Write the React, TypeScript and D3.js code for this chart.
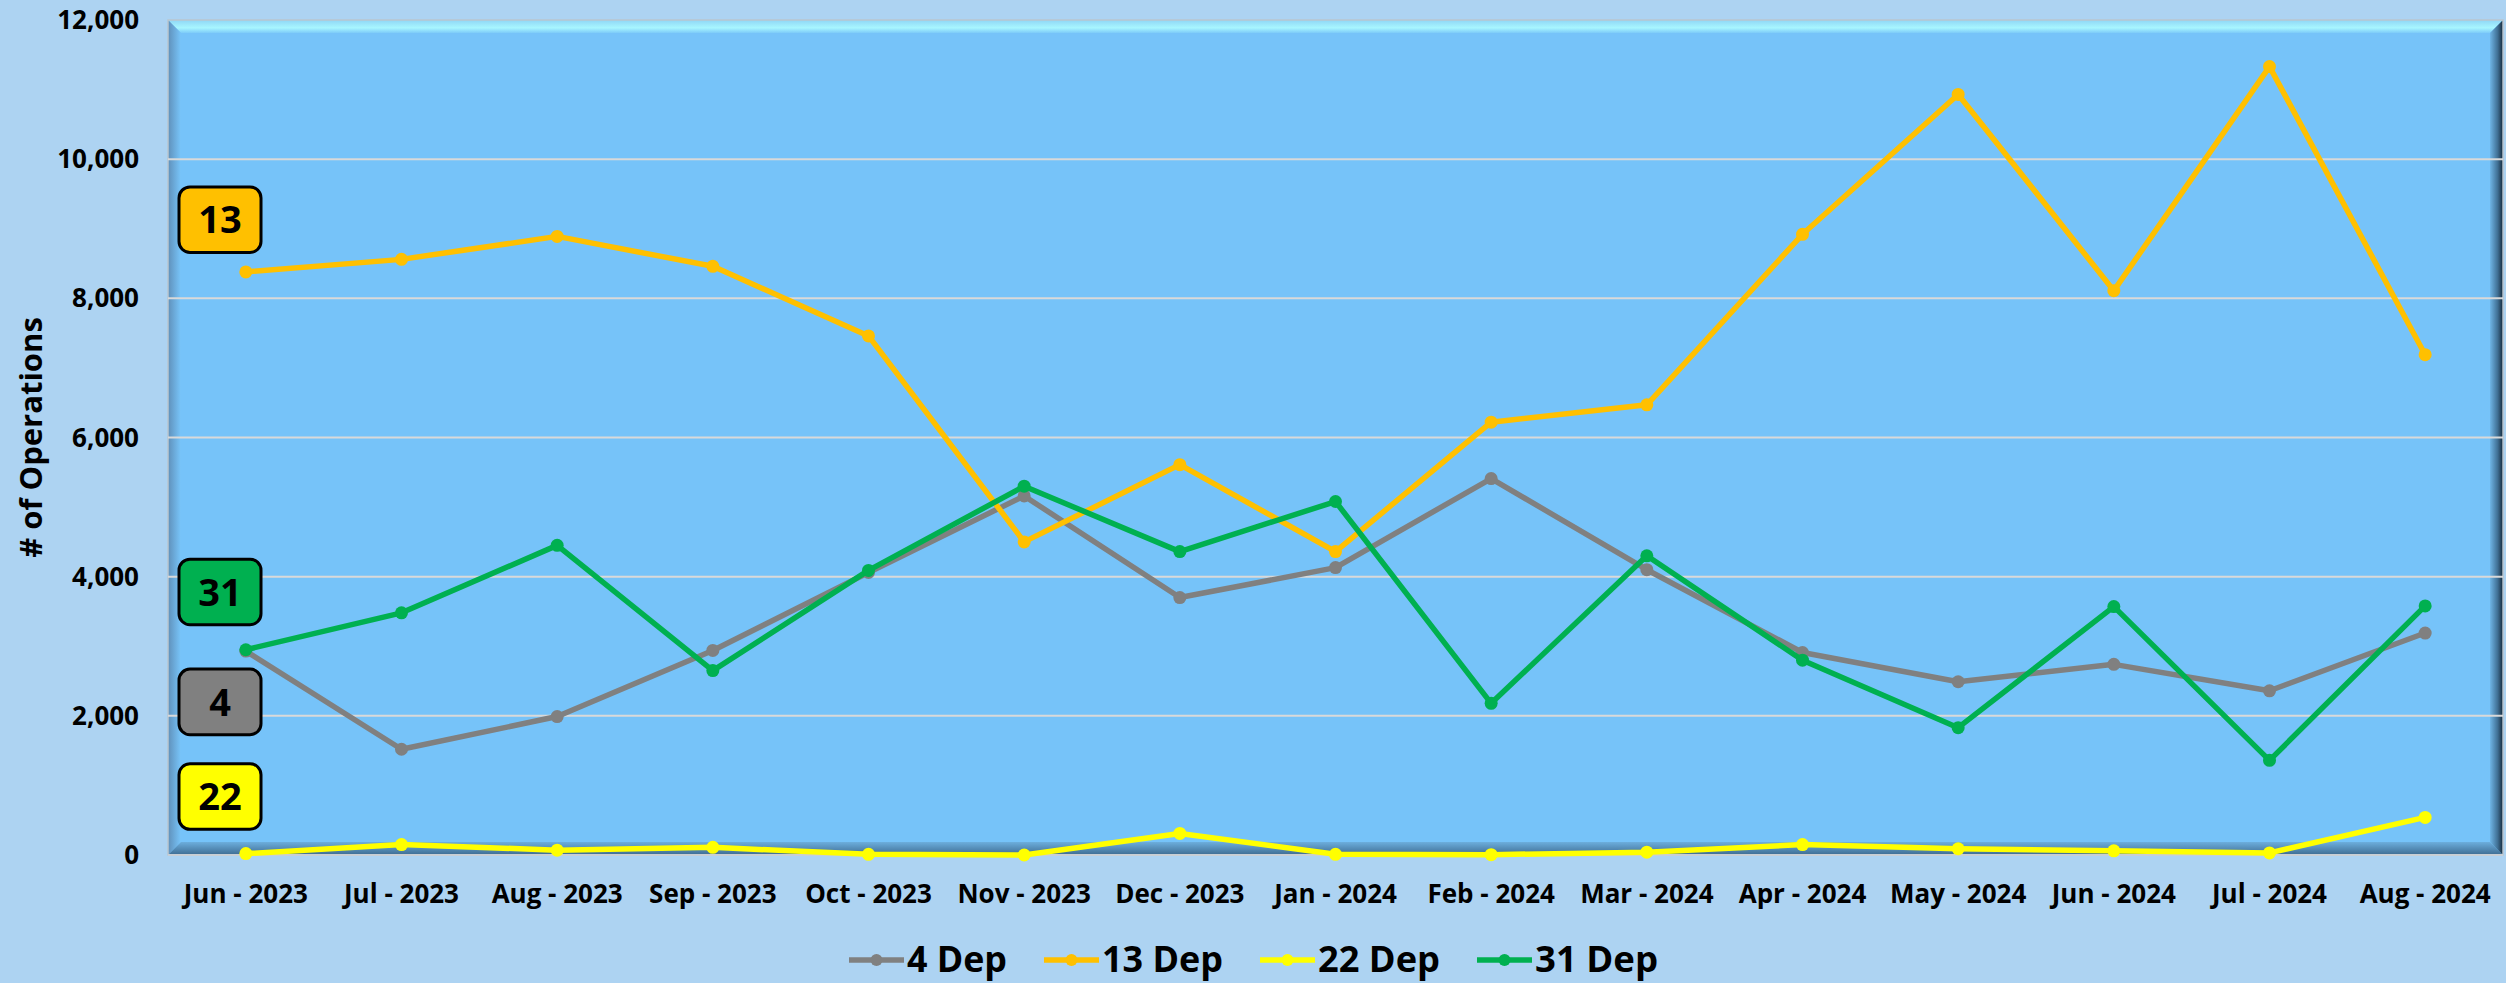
import React from "react";
import * as d3 from "d3";

const months = [
  "Jun - 2023", "Jul - 2023", "Aug - 2023", "Sep - 2023", "Oct - 2023",
  "Nov - 2023", "Dec - 2023", "Jan - 2024", "Feb - 2024", "Mar - 2024",
  "Apr - 2024", "May - 2024", "Jun - 2024", "Jul - 2024", "Aug - 2024",
];
const dep4 = [2930, 1520, 1990, 2940, 4060, 5160, 3700, 4130, 5410, 4100, 2910, 2490, 2740, 2360, 3190];
const dep13 = [8380, 8560, 8890, 8460, 7460, 4500, 5610, 4360, 6220, 6470, 8920, 10930, 8110, 11330, 7190];
const dep22 = [20, 150, 70, 110, 10, 0, 310, 10, 5, 40, 150, 90, 60, 30, 540];
const dep31 = [2950, 3480, 4450, 2650, 4090, 5300, 4360, 5080, 2180, 4300, 2800, 1830, 3570, 1360, 3580];

const seriesNames = ["4 Dep", "13 Dep", "22 Dep", "31 Dep"];
const seriesColors = ["#808080", "#FFC000", "#FFFF00", "#00B050"];
const seriesValues = [dep4, dep13, dep22, dep31];
const boxLabels = ["13", "31", "4", "22"];
const boxColors = ["#FFC000", "#00B050", "#808080", "#FFFF00"];
const boxValues = [9130, 3780, 2200, 840];

const W = 2506;
const H = 983;
const L = 168, R = 2503, T = 20, B = 855;
const FONT = "'Open Sans', 'Noto Sans', sans-serif";

export default function App() {
  const x = d3.scaleBand<string>().domain(months).range([L, R]);
  const cx = (m: string) => (x(m) as number) + x.bandwidth() / 2;
  const y = d3.scaleLinear().domain([0, 12000]).range([B, T]);
  const ticks = y.ticks(6);
  const fmt = d3.format(",");
  const line = d3.line<number>().x((_, i) => cx(months[i])).y((d) => y(d));
  const bev = 13;

  const legendWidths = [100, 121, 122, 123];
  let lx = 849;
  const legendPos = legendWidths.map((w) => {
    const p = lx;
    lx += 55 + 3 + w + 37;
    return p;
  });

  return (
    <svg width={W} height={H} style={{ position: "absolute", left: 0, top: 0, display: "block" }}>
      <defs>
        <linearGradient id="gTop" x1="0" y1="0" x2="0" y2="1">
          <stop offset="0" stopColor="#8FD6F6" />
          <stop offset="0.6" stopColor="#A8F6FF" />
          <stop offset="1" stopColor="#7DCBF9" />
        </linearGradient>
        <linearGradient id="gLeft" x1="0" y1="0" x2="1" y2="0">
          <stop offset="0" stopColor="#5F90BA" />
          <stop offset="1" stopColor="#78C5FA" />
        </linearGradient>
        <linearGradient id="gBottom" x1="0" y1="0" x2="0" y2="1">
          <stop offset="0" stopColor="#6CAEDD" />
          <stop offset="1" stopColor="#3E6C92" />
        </linearGradient>
        <linearGradient id="gRight" x1="0" y1="0" x2="1" y2="0">
          <stop offset="0" stopColor="#6FB5E6" />
          <stop offset="0.6" stopColor="#3F6E92" />
          <stop offset="1" stopColor="#15293A" />
        </linearGradient>
      </defs>
      <rect x={0} y={0} width={W} height={H} fill="#ADD3F2" />
      <rect x={L} y={T} width={R - L} height={B - T} fill="#76C3F9" />
      <polygon points={`${L},${T} ${R},${T} ${R - bev},${T + bev} ${L + bev},${T + bev}`} fill="url(#gTop)" />
      <polygon points={`${L},${T} ${L + bev},${T + bev} ${L + bev},${B - bev} ${L},${B}`} fill="url(#gLeft)" />
      <polygon points={`${L},${B} ${L + bev},${B - bev} ${R - bev},${B - bev} ${R},${B}`} fill="url(#gBottom)" />
      <polygon points={`${R},${T} ${R - bev},${T + bev} ${R - bev},${B - bev} ${R},${B}`} fill="url(#gRight)" />
      <rect x={L} y={T} width={R - L} height={B - T} fill="none" stroke="#B9C6D0" strokeWidth={1.5} />

      {ticks.map((t) => (
        <g key={t}>
          {t > 0 && t < 12000 && (
            <line x1={L} x2={R} y1={y(t)} y2={y(t)} stroke="#D9D9D9" strokeWidth={2} />
          )}
          <text x={139} y={y(t)} dy="0.35em" textAnchor="end" fontFamily={FONT} fontWeight={700}
            fontSize={26} fill="#000">{fmt(t)}</text>
        </g>
      ))}
      <line x1={L} x2={R} y1={B} y2={B} stroke="#C8CED4" strokeWidth={2} />

      <text transform={`translate(42, ${(T + B) / 2}) rotate(-90)`} textAnchor="middle"
        fontFamily={FONT} fontWeight={700} fontSize={31} fill="#000">
        # of Operations
      </text>

      {months.map((m) => (
        <text key={m} x={cx(m)} y={903} textAnchor="middle" fontFamily={FONT} fontWeight={700}
          fontSize={26} fill="#000">{m}</text>
      ))}

      {seriesValues.map((vals, si) => (
        <g key={seriesNames[si]}>
          <path d={line(vals) as string} fill="none" stroke={seriesColors[si]} strokeWidth={5.5}
            strokeLinejoin="round" />
          {vals.map((v, i) => (
            <circle key={i} cx={cx(months[i])} cy={y(v)} r={6.5} fill={seriesColors[si]} />
          ))}
        </g>
      ))}

      {boxLabels.map((b, i) => (
        <g key={b}>
          <rect x={179} y={y(boxValues[i]) - 32.8} width={82} height={65.6} rx={11}
            fill={boxColors[i]} stroke="#000" strokeWidth={3} />
          <text x={220} y={y(boxValues[i])} dy="0.36em" textAnchor="middle" fontFamily={FONT}
            fontWeight={700} fontSize={38} fill="#000">{b}</text>
        </g>
      ))}

      {seriesNames.map((n, i) => (
        <g key={n} transform={`translate(${legendPos[i]}, 960)`}>
          <line x1={0} x2={55} y1={0} y2={0} stroke={seriesColors[i]} strokeWidth={5.5} />
          <circle cx={27.5} cy={0} r={6} fill={seriesColors[i]} />
          <text x={58} y={12} fontFamily={FONT} fontWeight={700} fontSize={35} fill="#000"
            textLength={legendWidths[i]} lengthAdjust="spacingAndGlyphs">{n}</text>
        </g>
      ))}
    </svg>
  );
}
